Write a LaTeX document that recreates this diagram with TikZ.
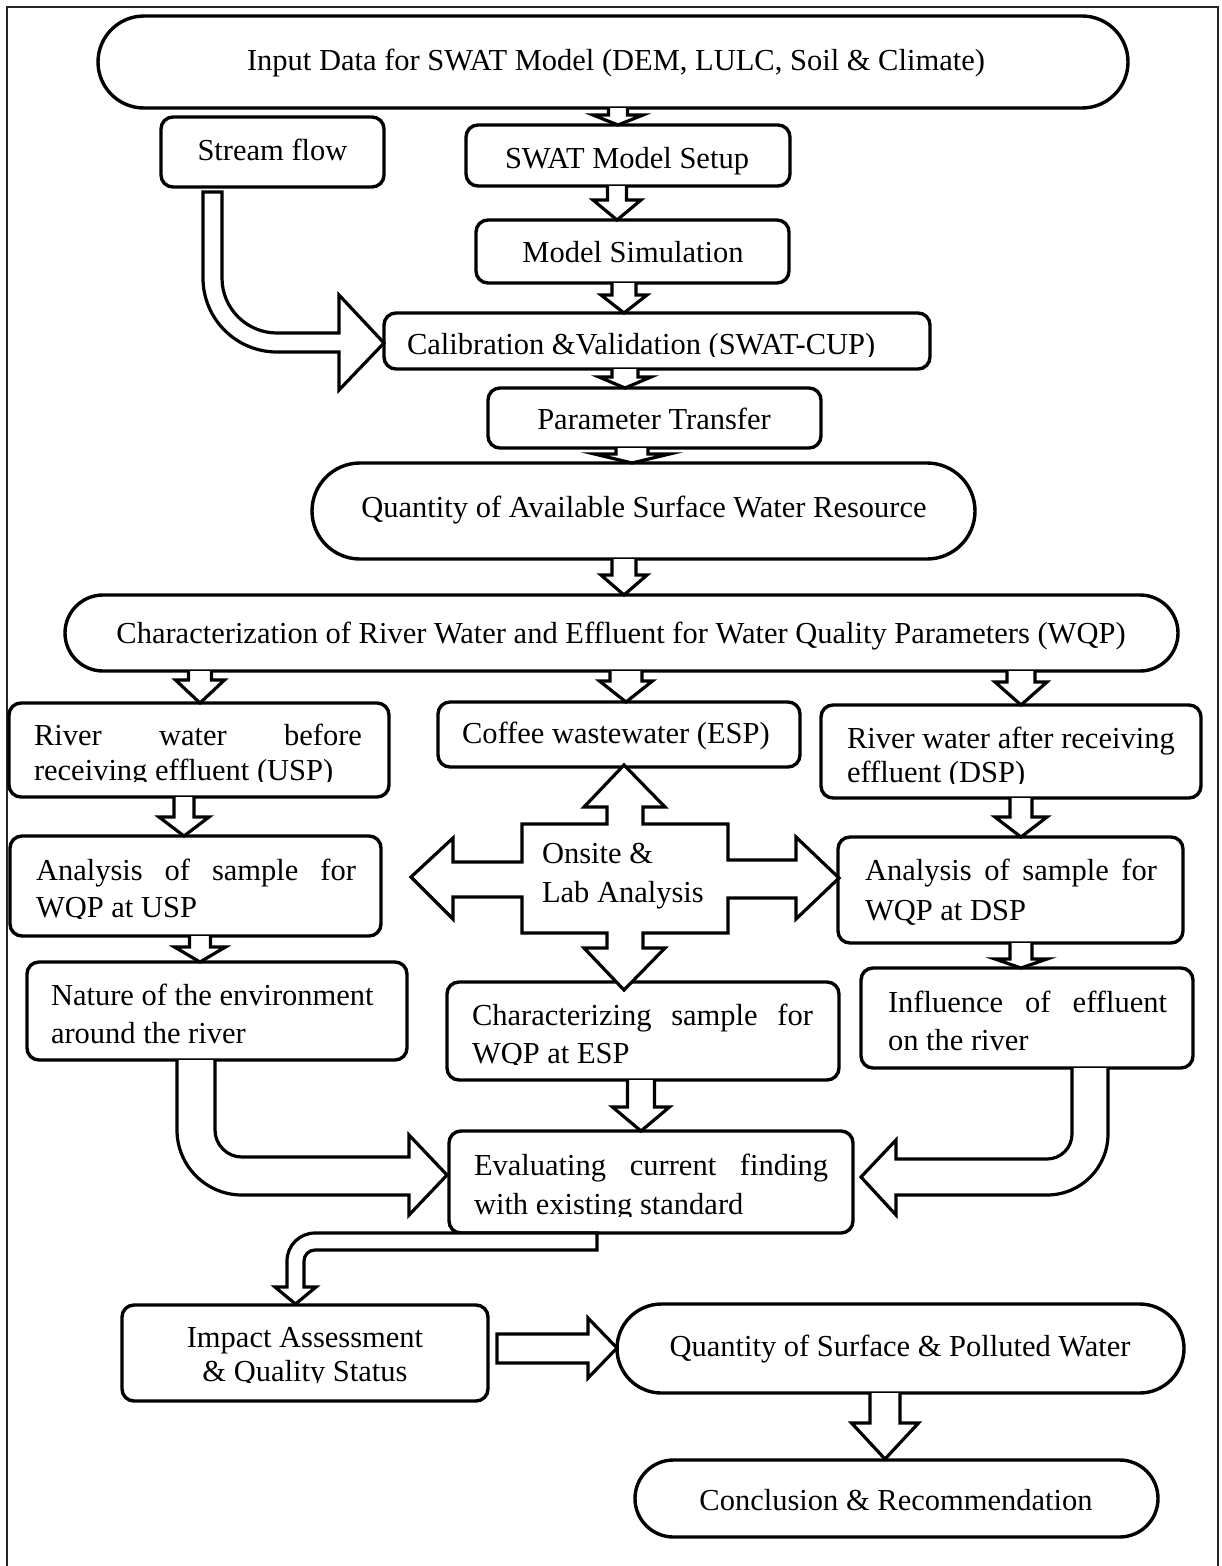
\documentclass[tikz,border=0pt]{standalone}
\usepackage{fontspec}
\setmainfont{Liberation Serif}
\usetikzlibrary{shapes.misc}
\newcommand\fz[1]{\fontsize{30.5}{#1}\selectfont}
% down block arrow: x centre, shaft half width, head half width, y top, y head base, y tip
\newcommand\dnarr[6]{\filldraw[blk] ({#1-#2},#4) -- ({#1-#2},#5) -- ({#1-#3},#5) -- (#1,#6) -- ({#1+#3},#5) -- ({#1+#2},#5) -- ({#1+#2},#4);}
\begin{document}
\begin{tikzpicture}[x=1pt,y=-1pt,
  box/.style={draw, line width=3.4pt, rounded corners=12pt, inner sep=0pt, fill=white},
  pill/.style={draw, line width=3.4pt, shape=rounded rectangle, inner sep=0pt, fill=white},
  blk/.style={draw, line width=3.2pt, fill=white, miter limit=10},
  frm/.style={draw=black!85, line width=1.8pt},
  txt/.style={inner sep=0pt, outer sep=0pt, font=\fz{36}}]
\useasboundingbox (0,0) rectangle (1221,1566);
\draw[frm] (7,1580) -- (7,7) -- (1218,7) -- (1218,1580);

% ---------- boxes ----------
\node[pill, minimum width=1030pt, minimum height=92pt] (input) at (613,62) {};
\node[box, minimum width=223pt, minimum height=70pt] (stream) at (272.5,152) {};
\node[box, minimum width=324pt, minimum height=61pt] (setup) at (628,155.5) {};
\node[box, minimum width=313pt, minimum height=63pt] (sim) at (632.5,251.5) {};
\node[box, minimum width=546pt, minimum height=56pt] (calib) at (657,341) {};
\node[box, minimum width=333pt, minimum height=60pt] (param) at (654.5,418) {};
\node[pill, minimum width=663pt, minimum height=96pt] (qavail) at (643.5,511) {};
\node[pill, minimum width=1113pt, minimum height=76pt] (charact) at (621.5,633) {};
\node[box, minimum width=380pt, minimum height=94pt] (usp) at (199,750) {};
\node[box, minimum width=362pt, minimum height=65pt] (coffee) at (619,734.5) {};
\node[box, minimum width=380pt, minimum height=93pt] (dsp) at (1011,751.5) {};
\node[box, minimum width=371pt, minimum height=100pt] (ausp) at (195.5,886) {};
\node[box, minimum width=345pt, minimum height=106pt] (adsp) at (1010.5,890) {};
\node[box, minimum width=380pt, minimum height=98pt] (nature) at (217,1011) {};
\node[box, minimum width=392pt, minimum height=98pt] (charsamp) at (643,1031) {};
\node[box, minimum width=332pt, minimum height=100pt] (influence) at (1027,1018) {};
\node[box, minimum width=404pt, minimum height=102pt] (evaluate) at (651,1182) {};
\node[box, minimum width=366pt, minimum height=96pt] (impact) at (305,1353) {};
\node[pill, minimum width=567pt, minimum height=89pt] (qsurf) at (900.5,1348.5) {};
\node[pill, minimum width=523pt, minimum height=77pt] (concl) at (896.5,1498.5) {};

% ---------- block arrows ----------
\dnarr{618}{9.5}{25}{108}{115}{125}
\dnarr{617}{9.5}{24}{186}{200}{220}
\dnarr{624}{12}{23}{283}{295}{313}
\dnarr{625}{13}{26}{369}{377}{388}
\dnarr{632}{16}{37.5}{448}{454}{463}
\dnarr{624}{12}{23}{559}{575}{595}
\dnarr{200}{11.5}{24.5}{671}{680}{703}
\dnarr{626}{16}{26.5}{671}{681}{702}
\dnarr{1021}{14}{26}{671}{682}{705}
\dnarr{184}{10}{25}{797}{817}{836}
\dnarr{1021}{11}{26}{798}{817}{837}
\dnarr{200}{10.5}{25.5}{936}{947}{962}
\dnarr{1021}{11}{26}{943}{959}{968}
\dnarr{641}{13.5}{28.5}{1080}{1107}{1131}
\dnarr{885}{15}{33.5}{1393}{1423}{1459}

% stream flow -> calibration
\filldraw[blk] (203,192) -- (203,278) .. controls (203,318.9) and (236.1,352) .. (277,352) -- (339,352) -- (339,390) -- (384,343) -- (339,295) -- (339,333) -- (277,333) .. controls (246.6,333) and (222,308.4) .. (222,278) -- (222,192) -- cycle;
% nature -> evaluate
\filldraw[blk] (177,1060) -- (177,1130) .. controls (177,1165.9) and (206.1,1195) .. (242,1195) -- (409,1195) -- (409,1215) -- (447,1175) -- (409,1135) -- (409,1157) -- (242,1157) .. controls (227.1,1157) and (215,1144.9) .. (215,1130) -- (215,1060);
% influence -> evaluate
\filldraw[blk] (1072,1068) -- (1072,1134) .. controls (1072,1147.8) and (1060.8,1159) .. (1047,1159) -- (896,1159) -- (896,1140) -- (861,1177) -- (896,1215) -- (896,1195) -- (1047,1195) .. controls (1080.7,1195) and (1108,1167.7) .. (1108,1134) -- (1108,1068);
% evaluate -> impact
\filldraw[blk] (597,1233) -- (315,1233) .. controls (299.5,1233) and (287,1245.5) .. (287,1261) -- (287,1287) -- (275,1287) -- (295.5,1304) -- (316,1287) -- (304,1287) -- (304,1261) .. controls (304,1254.9) and (308.9,1250) .. (315,1250) -- (597,1250) -- cycle;
% impact -> quantity of surface
\filldraw[blk] (497,1334) -- (588,1334) -- (588,1318) -- (617,1348) -- (588,1378) -- (588,1363) -- (497,1363) -- cycle;
% onsite & lab analysis four-way arrow
\filldraw[blk] (624,765) -- (665,807) -- (643,807) -- (643,824) -- (728,824) -- (728,860) -- (796,860) -- (796,837) -- (839,878) -- (796,919) -- (796,898) -- (728,898) -- (728,933) -- (643,933) -- (643,948) -- (665,948) -- (624,990) -- (584,948) -- (607,948) -- (607,933) -- (522,933) -- (522,897) -- (453,897) -- (453,919) -- (411,877) -- (453,838) -- (453,862) -- (522,862) -- (522,824) -- (607,824) -- (607,807) -- (584,807) -- cycle;

% ---------- texts ----------
\node[txt, anchor=base] (t-input) at (616,70) {Input Data for SWAT Model (DEM, LULC, Soil \& Climate)};
\node[txt, anchor=base] (t-stream) at (272.5,160) {Stream flow};
\node[txt, anchor=base] (t-setup) at (627,168) {SWAT Model Setup};
\node[txt, anchor=base] (t-sim) at (633,262) {Model Simulation};
\begin{scope}
\clip (384,313) rectangle (930,356);
\node[txt, anchor=base west] (t-calib) at (407,354) {Calibration \&Validation (SWAT-CUP)};
\end{scope}
\node[txt, anchor=base] (t-param) at (654,429) {Parameter Transfer};
\node[txt, anchor=base] (t-qavail) at (644,517) {Quantity of Available Surface Water Resource};
\node[txt, anchor=base] (t-charact) at (621,643) {Characterization of River Water and Effluent for Water Quality Parameters (WQP)};

\begin{scope}
\clip (9,703) rectangle (389,781);
\node[txt, anchor=base west, font=\fz{35}] (t-usp) at (34,745) {\vtop{\hbox{\makebox[328pt][s]{River water before}}\hbox{receiving effluent (USP)}}};
\end{scope}
\node[txt, anchor=base west] (t-coffee) at (462,743) {Coffee wastewater (ESP)};
\begin{scope}
\clip (821,705) rectangle (1201,783);
\node[txt, anchor=base west, font=\fz{34}] (t-dsp) at (847,748) {\vtop{\hbox{River water after receiving}\hbox{effluent (DSP)}}};
\end{scope}

\begin{scope}
\clip (10,836) rectangle (381,918);
\node[txt, anchor=base west, font=\fz{37}] (t-ausp) at (36,880) {\vtop{\hbox{\makebox[320pt][s]{Analysis of sample for}}\hbox{WQP at USP}}};
\end{scope}
\node[txt, anchor=base west, font=\fz{39}] (t-onsite) at (542,863) {\vtop{\hbox{Onsite \&}\hbox{Lab Analysis}}};
\node[txt, anchor=base west, font=\fz{40}] (t-adsp) at (865,880) {\vtop{\hbox{\makebox[292pt][s]{Analysis of sample for}}\hbox{WQP at DSP}}};

\begin{scope}
\clip (27,962) rectangle (407,1045);
\node[txt, anchor=base west, font=\fz{38}] (t-nature) at (51,1005) {\vtop{\hbox{Nature of the environment}\hbox{around the river}}};
\end{scope}
\begin{scope}
\clip (447,982) rectangle (839,1064);
\node[txt, anchor=base west, font=\fz{38}] (t-charsamp) at (472,1025) {\vtop{\hbox{\makebox[341pt][s]{Characterizing sample for}}\hbox{WQP at ESP}}};
\end{scope}
\node[txt, anchor=base west, font=\fz{38}] (t-influence) at (888,1012) {\vtop{\hbox{\makebox[279pt][s]{Influence of effluent}}\hbox{on the river}}};

\begin{scope}
\clip (449,1131) rectangle (853,1216);
\node[txt, anchor=base west, font=\fz{39}] (t-evaluate) at (474,1175) {\vtop{\hbox{\makebox[354pt][s]{Evaluating current finding}}\hbox{with existing standard}}};
\end{scope}
\begin{scope}
\clip (122,1305) rectangle (488,1382);
\node[txt, anchor=base, font=\fz{34}] (t-impact) at (305,1347) {\vtop{\hbox to 300pt{\hss Impact Assessment\hss}\hbox to 300pt{\hss\& Quality Status\hss}}};
\end{scope}
\node[txt, anchor=base] (t-qsurf) at (900,1356) {Quantity of Surface \& Polluted Water};
\node[txt, anchor=base] (t-concl) at (896,1510) {Conclusion \& Recommendation};
\end{tikzpicture}
\end{document}
